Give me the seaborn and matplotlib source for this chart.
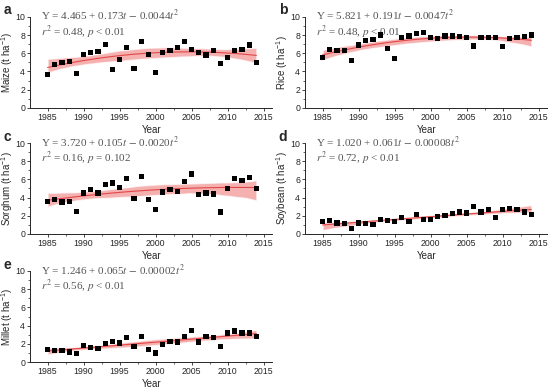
import numpy as np
import pandas as pd
import matplotlib
matplotlib.use("Agg")
import matplotlib.pyplot as plt
from matplotlib.ticker import MultipleLocator
import seaborn as sns

# ==============
# DADOS
# ==============

anos = list(range(1985, 2015))

milho = [3.7, 4.8, 5.0, 5.1, 3.8, 5.9, 6.1, 6.2, 7.0, 4.2, 5.3, 6.6, 4.3, 7.3, 5.9,
         3.9, 6.1, 6.3, 6.6, 7.3, 6.4, 6.1, 5.8, 6.3, 4.9, 5.5, 6.3, 6.4, 6.9, 5.0]
arroz = [5.5, 6.4, 6.3, 6.3, 5.2, 6.9, 7.4, 7.5, 8.0, 6.5, 5.4, 7.7, 7.9, 8.2, 8.3,
         7.7, 7.6, 7.9, 7.9, 7.8, 7.7, 6.8, 7.7, 7.7, 7.7, 6.7, 7.6, 7.7, 7.8, 8.0]
sorgo = [3.6, 3.8, 3.5, 3.6, 2.5, 4.5, 4.9, 4.5, 5.4, 5.6, 5.1, 6.1, 3.9, 6.3, 3.8,
         2.7, 4.6, 4.9, 4.7, 5.8, 6.6, 4.3, 4.5, 4.4, 2.4, 5.0, 6.1, 5.9, 6.2, 5.0]
soja = [1.4, 1.5, 1.2, 1.1, 0.6, 1.2, 1.1, 1.0, 1.6, 1.5, 1.4, 1.8, 1.4, 2.1, 1.6,
        1.6, 1.9, 2.0, 2.2, 2.4, 2.3, 3.0, 2.4, 2.7, 1.8, 2.7, 2.8, 2.7, 2.4, 2.1]
milheto = [1.4, 1.3, 1.3, 1.1, 0.9, 1.8, 1.6, 1.5, 2.0, 2.3, 2.1, 2.7, 1.7, 2.8, 1.4,
           1.0, 1.9, 2.3, 2.2, 2.8, 3.5, 2.2, 2.8, 2.7, 1.7, 3.2, 3.4, 3.2, 3.2, 2.8]

culturas = ["Maize", "Rice", "Sorghum", "Soybean", "Millet"]
letras = ["a", "b", "c", "d", "e"]
equacoes = [
    r"Y = 4.465 + 0.173$t$ $-$ 0.0044$t^2$",
    r"Y = 5.821 + 0.191$t$ $-$ 0.0047$t^2$",
    r"Y = 3.720 + 0.105$t$ $-$ 0.0020$t^2$",
    r"Y = 1.020 + 0.061$t$ $-$ 0.00008$t^2$",
    r"Y = 1.246 + 0.065$t$ $-$ 0.00002$t^2$",
]
estatisticas = [
    r"$r^2$ = 0.48, $p$ < 0.01",
    r"$r^2$ = 0.48, $p$ < 0.01",
    r"$r^2$ = 0.16, $p$ = 0.102",
    r"$r^2$ = 0.72, $p$ < 0.01",
    r"$r^2$ = 0.56, $p$ < 0.01",
]

df = pd.DataFrame({"ano": anos, "Maize": milho, "Rice": arroz, "Sorghum": sorgo,
                   "Soybean": soja, "Millet": milheto})

# ==============
# GRÁFICO
# ==============

sns.set_style("ticks")
plt.rcParams["font.family"] = ["Liberation Sans", "DejaVu Sans"]
plt.rcParams["mathtext.fontset"] = "stix"
plt.rcParams["xtick.direction"] = "out"
plt.rcParams["ytick.direction"] = "out"

fig = plt.figure(figsize=(5.5, 3.91), dpi=100)

# posições [esquerda, base, largura, altura]
posicoes = [
    [0.055, 0.724, 0.44, 0.233],
    [0.555, 0.724, 0.44, 0.233],
    [0.055, 0.402, 0.44, 0.232],
    [0.555, 0.402, 0.44, 0.232],
    [0.055, 0.074, 0.44, 0.233],
]

for i, cultura in enumerate(culturas):
    ax = fig.add_axes(posicoes[i])
    sns.regplot(data=df, x="ano", y=cultura, order=2, scatter=False, ci=95,
                seed=1, n_boot=500, color="#e03c3c", ax=ax,
                line_kws={"linewidth": 0.8, "alpha": 0.9})
    for col in ax.collections:
        col.set_facecolor("#f28f8f")
        col.set_alpha(0.7)
    sns.scatterplot(data=df, x="ano", y=cultura, marker="s", s=14, color="black",
                    edgecolor="none", ax=ax, zorder=5)

    ax.set_xlim(1982.6, 2016.2)
    ax.set_ylim(0, 10)
    ax.xaxis.set_major_locator(MultipleLocator(5))
    ax.xaxis.set_minor_locator(MultipleLocator(2.5))
    ax.yaxis.set_major_locator(MultipleLocator(2))
    ax.yaxis.set_minor_locator(MultipleLocator(1))
    ax.tick_params(which="major", labelsize=6.3, length=2.5, width=0.6, pad=1.2)
    ax.tick_params(which="minor", length=1.5, width=0.5)
    for lado in ["left", "bottom"]:
        ax.spines[lado].set_linewidth(0.7)
    sns.despine(ax=ax)

    ax.set_xlabel("Year", fontsize=7, labelpad=2)
    ax.set_ylabel(cultura + r" (t ha$^{\mathregular{-1}}$)", fontsize=7, labelpad=0.5)

    ax.text(0.045, 1.01, equacoes[i], transform=ax.transAxes, fontsize=8,
            family="Liberation Serif", color="#555555", va="center")
    ax.text(0.045, 0.83, estatisticas[i], transform=ax.transAxes, fontsize=8,
            family="Liberation Serif", color="#555555", va="center")
    ax.text(-0.11, 1.07, letras[i], transform=ax.transAxes, fontsize=10,
            fontweight="bold", va="center")

fig.savefig("out.png", dpi=100)
